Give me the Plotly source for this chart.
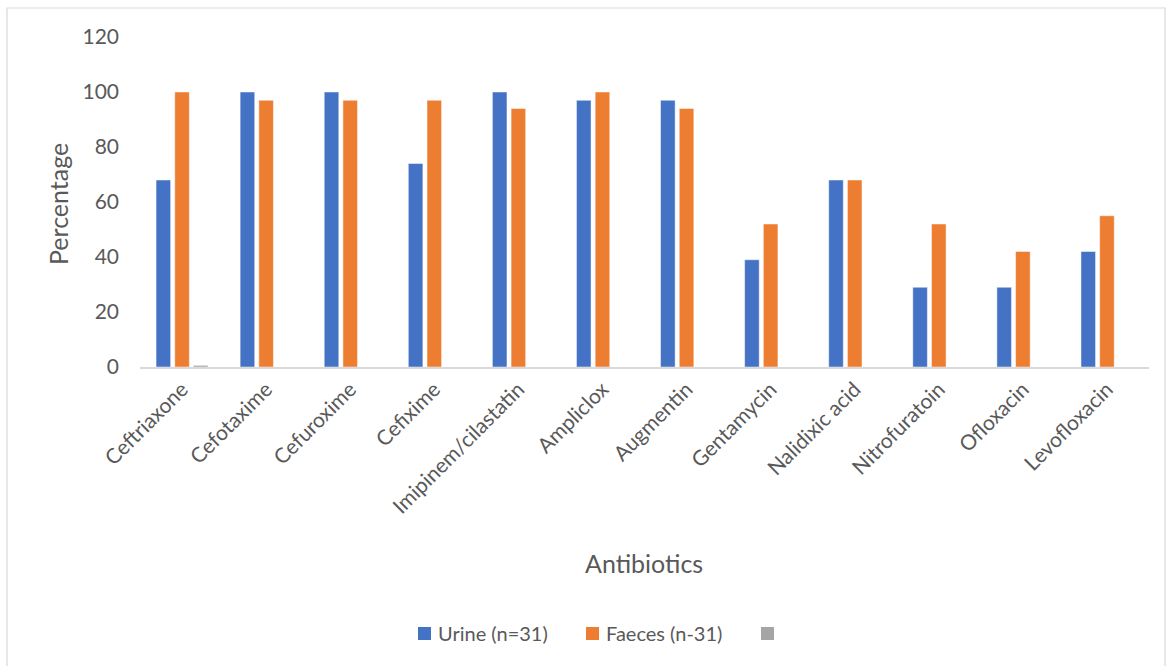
import plotly.graph_objects as go

categories = ["Ceftriaxone", "Cefotaxime", "Cefuroxime", "Cefixime", "Imipinem/cilastatin",
              "Ampliclox", "Augmentin", "Gentamycin", "Nalidixic acid", "Nitrofuratoin",
              "Ofloxacin", "Levofloxacin"]
urine = [68, 100, 100, 74, 100, 97, 97, 39, 68, 29, 29, 42]
faeces = [100, 97, 97, 97, 94, 100, 94, 52, 68, 52, 42, 55]
third = [0.6, None, None, None, None, None, None, None, None, None, None, None]

series_names = ["Urine (n=31)", "Faeces (n-31)", ""]
colors = ["#4472C4", "#ED7D31", "#A5A5A5"]

TXT = "#595959"
FONT = "Lato, 'Open Sans', sans-serif"

fig = go.Figure()
for name, vals, col in zip(series_names, [urine, faeces, third], colors):
    fig.add_trace(go.Bar(x=categories, y=vals, name=name or " ", showlegend=False,
                         marker=dict(color=col, line=dict(color="rgba(255,255,255,0.6)", width=0.8))))

W, H = 1170, 666
L, R, T, B = 140, 21, 37, 299
pw, ph = W - L - R, H - T - B

def px(x):
    return (x - L) / pw

def py(y):
    return (H - B - y) / ph

shapes = [dict(type="rect", xref="paper", yref="paper",
               x0=px(7), x1=px(1165), y0=py(700), y1=py(8),
               line=dict(color="#D9D9D9", width=1.2), fillcolor="rgba(0,0,0,0)", layer="below")]

# Manual legend (layout positions)
legend_x = [418, 586, 761]
for lx, name, col in zip(legend_x, series_names, colors):
    shapes.append(dict(type="rect", xref="paper", yref="paper",
                       x0=px(lx), x1=px(lx + 13), y0=py(640), y1=py(627),
                       line=dict(width=0), fillcolor=col))

fig.update_layout(
    width=W, height=H,
    margin=dict(l=L, r=R, t=T, b=B, autoexpand=False),
    paper_bgcolor="white", plot_bgcolor="white",
    barmode="group", bargap=0.333, bargroupgap=0.22,
    font=dict(family=FONT, color=TXT, size=16),
    showlegend=False,
    xaxis=dict(tickangle=-45, showline=True, linecolor="#D9D9D9", linewidth=1.5,
               ticks="", showgrid=False, tickfont=dict(size=21, color=TXT),
               fixedrange=True),
    yaxis=dict(range=[0, 120], dtick=20, showgrid=False, zeroline=False, showline=False,
               ticks="", tickfont=dict(size=21, color=TXT), ticklabelstandoff=20,
               fixedrange=True),
    shapes=shapes,
)

for lx, name in zip(legend_x, series_names):
    if name:
        fig.add_annotation(text=name, xref="paper", yref="paper", x=px(lx + 18), y=py(633),
                           showarrow=False, font=dict(size=20, color=TXT, family=FONT),
                           xanchor="left", yanchor="middle")

fig.add_annotation(text="Antibiotics", xref="paper", yref="paper", x=px(644), y=py(563),
                   showarrow=False, font=dict(size=25, color=TXT, family=FONT),
                   xanchor="center", yanchor="middle")
fig.add_annotation(text="Percentage", xref="paper", yref="paper", x=px(58), y=py(204),
                   showarrow=False, textangle=-90, font=dict(size=25, color=TXT, family=FONT),
                   xanchor="center", yanchor="middle")

fig.write_html("out.html")
